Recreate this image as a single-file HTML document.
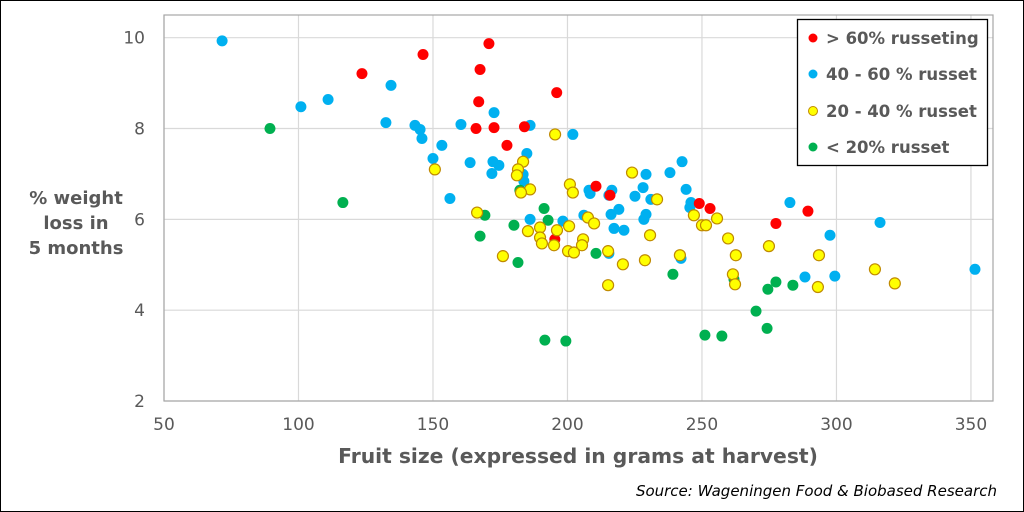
<!DOCTYPE html>
<html><head><meta charset="utf-8">
<style>
html,body{margin:0;padding:0;background:#fff;}
body{width:1024px;height:512px;overflow:hidden;}
svg{display:block;font-family:"DejaVu Sans","Liberation Sans",sans-serif;}
</style></head>
<body>
<svg id="chart" width="1024" height="512" viewBox="0 0 1024 512">
<rect x="0.5" y="0.5" width="1023" height="511" fill="#fff" stroke="#000" stroke-width="1"/>
<g id="grid"></g>
<rect x="164" y="15" width="829" height="386" fill="none" stroke="#a6a6a6" stroke-width="1.2"/>
<g id="ticks"></g>
<g id="marks"></g>
<g font-weight="bold" font-size="18" fill="#595959" text-anchor="middle">
<text x="76" y="204">% weight</text><text x="76" y="229">loss in</text><text x="76" y="254">5 months</text>
</g>
<text x="578" y="463" text-anchor="middle" font-weight="bold" font-size="20.3" fill="#595959">Fruit size (expressed in grams at harvest)</text>
<text x="997" y="496" text-anchor="end" font-style="italic" font-size="15" fill="#000">Source: Wageningen Food &amp; Biobased Research</text>
<g>
<rect x="797.5" y="19.5" width="190" height="146" fill="#fff" stroke="#000" stroke-width="1.3"/>
<g font-weight="bold" font-size="16.5" fill="#595959">
<circle cx="813" cy="38" r="4.5" fill="#ff0000"/>
<text x="826" y="44">&gt; 60% russeting</text>
<circle cx="813" cy="74" r="4.5" fill="#00b0f0"/>
<text x="826" y="80">40 - 60 % russet</text>
<circle cx="813" cy="111" r="4.5" fill="#ffff00" stroke="#c08a00" stroke-width="1"/>
<text x="826" y="117">20 - 40 % russet</text>
<circle cx="813" cy="147" r="4.5" fill="#00b050"/>
<text x="826" y="153">&lt; 20% russet</text>
</g></g>
</svg>
<script>
const xTicks=[50,100,150,200,250,300,350];
const yTicks=[2,4,6,8,10];
const redX=[123.6,146.3,170.8,167.5,167,166,172.7,184,177.5,196,210.6,215.8,249,253,277.5,289.4,195.3];
const redY=[9.21,9.63,9.87,9.30,8.59,8.0,8.02,8.04,7.63,8.79,6.73,6.53,6.35,6.24,5.91,6.18,5.56];
const blueX=[71.6,100.9,111.0,134.4,132.5,143.3,145.2,145.9,153.3,150.0,160.4,163.8,156.3,172.7,172.3,174.5,171.9,186.1,184.9,183.5,183.8,202.0,186.1,198.3,208.0,208.4,216.5,215.4,225.1,228.1,229.2,238.1,242.6,244.1,231.0,245.9,245.5,219.1,216.2,206.1,229.2,228.4,217.3,221.0,215.4,242.2,282.7,297.6,316.2,288.3,299.4,351.5];
const blueY=[9.93,8.48,8.64,8.95,8.13,8.07,7.98,7.78,7.63,7.34,8.09,7.25,6.46,8.35,7.27,7.19,7.01,8.07,7.45,6.99,6.84,7.87,6.0,5.96,6.64,6.57,6.64,6.53,6.51,6.70,6.99,7.03,7.27,6.66,6.44,6.37,6.26,6.22,6.11,6.09,6.11,6.0,5.80,5.76,5.25,5.14,6.37,5.65,5.93,4.73,4.75,4.90];
const yellowX=[195.4,150.7,183.5,181.6,181.2,186.1,182.7,200.9,202.0,224.0,233.3,166.4,207.6,209.9,185.3,189.8,189.8,190.5,196.1,200.6,195.0,205.8,205.4,200.2,202.4,215.1,230.7,228.8,220.6,241.8,176.0,215.1,247.0,255.6,250.0,251.5,259.7,262.6,261.5,262.3,274.9,293.5,293.1,314.3,321.7];
const yellowY=[7.87,7.10,7.27,7.10,6.97,6.66,6.59,6.77,6.59,7.03,6.44,6.15,6.04,5.91,5.74,5.82,5.60,5.47,5.76,5.85,5.43,5.56,5.43,5.30,5.27,5.30,5.65,5.10,5.01,5.21,5.19,4.55,6.09,6.02,5.87,5.87,5.58,5.21,4.79,4.57,5.41,5.21,4.51,4.90,4.59];
const greenX=[89.4,116.5,182.3,191.3,192.8,169.3,180.1,167.5,181.6,210.6,239.2,191.6,199.4,251.1,257.4,261.9,277.5,274.5,283.8,270.1,274.2];
const greenY=[8.00,6.37,6.64,6.24,5.98,6.09,5.87,5.63,5.05,5.25,4.79,3.34,3.32,3.45,3.43,4.68,4.62,4.46,4.55,3.98,3.60];

const NS='http://www.w3.org/2000/svg';
const X0=164,X1=993,XMIN=50,XMAX=358.2;
const YTOP=15,YBOT=401,YMIN=2,YMAX=10.5;
function sx(v){return X0+(v-XMIN)/(XMAX-XMIN)*(X1-X0);}
function sy(v){return YBOT-(v-YMIN)/(YMAX-YMIN)*(YBOT-YTOP);}
function mk(tag,attrs,parent){const e=document.createElementNS(NS,tag);for(const k in attrs)e.setAttribute(k,attrs[k]);parent.appendChild(e);return e;}
const grid=document.getElementById('grid'),ticks=document.getElementById('ticks'),marks=document.getElementById('marks');
xTicks.forEach(t=>{
  const l=mk('line',{x1:sx(t),x2:sx(t),y1:YTOP,y2:YBOT,stroke:'#d9d9d9','stroke-width':1.2},grid);
  
  
  const tx=mk('text',{x:sx(t),y:YBOT+29,'text-anchor':'middle','font-size':17,fill:'#595959'},ticks);
  tx.textContent=t;
  
  
});
yTicks.forEach(t=>{
  const l=mk('line',{x1:X0,x2:X1,y1:sy(t),y2:sy(t),stroke:'#d9d9d9','stroke-width':1.2},grid);
  
  
  const tx=mk('text',{x:X0-19,y:sy(t)+6,'text-anchor':'end','font-size':17,fill:'#595959'},ticks);
  tx.textContent=t;
  
  
});
function series(xs,ys,fill,stroke,name){
  xs.forEach((x,i)=>{
    const c=mk('circle',{cx:sx(x),cy:sy(ys[i]),r:5.5,fill:fill},marks);
    if(stroke){c.setAttribute('stroke',stroke);c.setAttribute('stroke-width','1.2');}
    
    
  });
}
series(blueX,blueY,'#00b0f0',null,'point-40-60-russet');
series(redX,redY,'#ff0000',null,'point-over-60-russet');
series(greenX,greenY,'#00b050',null,'point-under-20-russet');
series(yellowX,yellowY,'#ffff00','#c08a00','point-20-40-russet');
</script>
</body></html>
